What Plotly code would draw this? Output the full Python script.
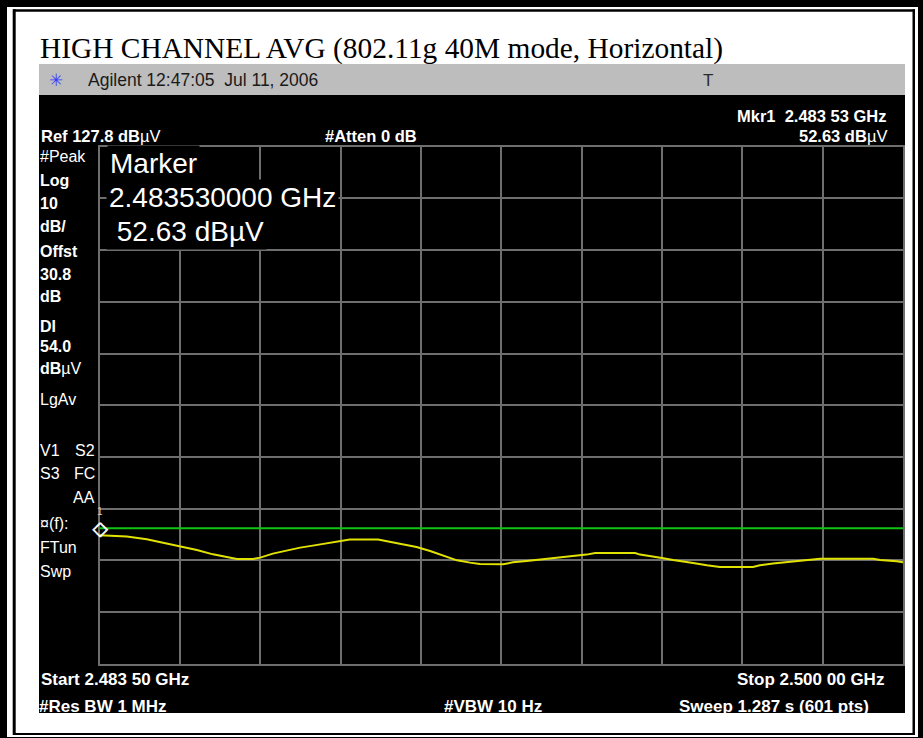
import plotly.graph_objects as go

# Spectrum analyser sweep: high channel, average detector
freq_ghz = [2.48350, 2.48406, 2.48447, 2.48480, 2.48515, 2.48550, 2.48583, 2.48611,
            2.48632, 2.48665, 2.48680, 2.48706, 2.48734, 2.48762, 2.48788, 2.48817,
            2.48844, 2.48864, 2.48922, 2.48947, 2.48973, 2.49001, 2.49029, 2.49055,
            2.49084, 2.49111, 2.49131, 2.49179, 2.49199, 2.49227, 2.49248, 2.49275,
            2.49302, 2.49326, 2.49350, 2.49368, 2.49450, 2.49460, 2.49481, 2.49505,
            2.49528, 2.49548, 2.49569, 2.49597, 2.49624, 2.49692, 2.49706, 2.49733,
            2.49757, 2.49782, 2.49809, 2.49830, 2.49939, 2.49953, 2.49987, 2.50000]
level_dbuv = [52.63, 52.38, 51.86, 51.22, 50.56, 49.78, 48.95, 48.37,
              48.05, 48.05, 48.32, 49.09, 49.73, 50.25, 50.64, 51.08,
              51.47, 51.80, 51.80, 51.33, 50.94, 50.37, 49.59, 48.76,
              47.79, 47.35, 47.08, 47.02, 47.41, 47.66, 47.85, 48.12,
              48.37, 48.63, 48.90, 49.21, 49.21, 48.90, 48.63, 48.24,
              47.85, 47.60, 47.27, 46.83, 46.50, 46.50, 46.83, 47.16,
              47.41, 47.66, 47.85, 48.12, 48.12, 47.85, 47.60, 47.41]

start_ghz, stop_ghz = 2.4835, 2.5000
ref_level = 127.8
db_per_div = 10
display_line = 54.0
marker_freq = 2.48353
marker_level = 52.63

W, H = 923, 738


def px(x):
    return x / W


def py(y):
    return 1 - y / H


SANS = "Liberation Sans, Arial, sans-serif"
SERIF = "Liberation Serif, Times New Roman, serif"

fig = go.Figure()

# display line
fig.add_trace(go.Scatter(x=[start_ghz, stop_ghz], y=[display_line, display_line],
                         mode="lines", line=dict(color="#12c412", width=2),
                         hoverinfo="skip", showlegend=False))
# measured trace
fig.add_trace(go.Scatter(x=freq_ghz, y=level_dbuv, mode="lines",
                         line=dict(color="#e2e200", width=2),
                         showlegend=False))

shapes = []


def rect(x0, y0, x1, y1, color, layer="below"):
    shapes.append(dict(type="rect", xref="paper", yref="paper",
                       x0=px(x0), x1=px(x1), y0=py(y1), y1=py(y0),
                       fillcolor=color, line=dict(width=0), layer=layer))


# instrument screen and title bar
rect(39, 95, 905, 713, "#000000")
rect(39, 64, 905, 95, "#bdbdbd")

# page border (thick outer, thin inner)
rect(0, 0, W, 7, "#000000", "above")
rect(0, 0, 7, H, "#000000", "above")
rect(918, 0, W, H, "#000000", "above")
rect(0, 737, W, H, "#000000", "above")
rect(13, 9.3, 915, 11.7, "#000000", "above")
rect(12.7, 9.3, 15.7, 735, "#000000", "above")
rect(13, 733, 915, 735, "#000000", "above")
rect(912.5, 9.3, 915, 735, "#000000", "above")

annotations = []


def label(text, x, y, size=17, color="#ffffff", anchor="left", family=SANS, bg=None):
    a = dict(text=text, x=px(x), y=py(y), xref="paper", yref="paper",
             xanchor=anchor, yanchor="middle", showarrow=False,
             font=dict(family=family, size=size, color=color))
    if bg:
        a.update(bgcolor=bg, borderpad=2)
    annotations.append(a)


label("HIGH CHANNEL AVG (802.11g 40M mode, Horizontal)", 38, 49, size=29.4,
      color="#000000", family=SERIF)

# title bar of the analyser
label("✳", 56, 80, size=17, color="#3a3aff", anchor="center", family="DejaVu Sans")
label("Agilent 12:47:05  Jul 11, 2006", 86, 80, size=17.5, color="#1a1a1a")
label("T", 708, 80, size=17, color="#2a2a2a", anchor="center")

# header readouts
label("<b>Mkr1  2.483 53 GHz</b>", 889, 116, size=16.5, anchor="right")
label("<b>Ref 127.8 dB</b>µV", 39, 136.5, size=16.5)
label("<b>#Atten 0 dB</b>", 323, 136.5, size=16.5)
label("<b>52.63 dB</b>µV", 889, 136.5, size=16.5, anchor="right")

# left-hand annotation panel
panel = [("#Peak", 156, False), ("Log", 180, True), ("10", 203, True),
         ("dB/", 227, True), ("Offst", 251, True), ("30.8", 274, True),
         ("dB", 296, True), ("DI", 326, True), ("54.0", 347, True),
         ("dB</b>µV<b>", 368, True), ("LgAv", 400, False),
         ("V1", 450, False), ("S3", 473, False), ("¤(f):", 523, False),
         ("FTun", 547, False), ("Swp", 571, False)]
for txt, yy, bold in panel:
    label(f"<b>{txt}</b>" if bold else txt, 38, yy, size=16)
for txt, yy in [("S2", 450), ("FC", 473), ("AA", 497)]:
    label(txt, 97, yy, size=16, anchor="right")

# footer readouts
label("<b>Start 2.483 50 GHz</b>", 39, 679)
label("<b>#Res BW 1 MHz</b>", 37, 706)
label("<b>#VBW 10 Hz</b>", 442, 706)
label("<b>Stop 2.500 00 GHz</b>", 886, 679, anchor="right")
label("<b>Sweep 1.287 s (601 pts)</b>", 871, 706, anchor="right")

# marker readout block
label("Marker", 107, 163, size=28, bg="#000000")
label("2.483530000 GHz", 106, 197, size=28, bg="#000000")
label(" 52.63 dBµV", 106, 231, size=28, bg="#000000")

# marker symbol (drawn twice for a heavier outline) and its number
for dx in (0, 1):
    annotations.append(dict(x=marker_freq - 0.00003, y=marker_level, xref="x", yref="y",
                            text="◇", showarrow=False, yshift=7, xshift=dx,
                            font=dict(family="DejaVu Sans", size=20, color="#ffffff")))
annotations.append(dict(x=marker_freq - 0.00003, y=marker_level, xref="x", yref="y",
                        text="1", showarrow=False, yshift=24,
                        font=dict(family=SANS, size=10, color="#cfcfcf")))

axis_style = dict(showgrid=True, gridcolor="#6e6e6e", gridwidth=2,
                  showline=True, mirror=True, linecolor="#6e6e6e", linewidth=2,
                  zeroline=False, showticklabels=False, ticks="", fixedrange=True)

fig.update_layout(
    width=W, height=H,
    margin=dict(l=0, r=0, t=0, b=0),
    paper_bgcolor="#ffffff",
    plot_bgcolor="#000000",
    xaxis=dict(range=[start_ghz, stop_ghz], tick0=start_ghz,
               dtick=(stop_ghz - start_ghz) / 10,
               domain=[px(99.5), px(903)], **axis_style),
    yaxis=dict(range=[ref_level - 10 * db_per_div, ref_level], tick0=ref_level,
               dtick=db_per_div, domain=[py(663.7), py(146.7)], **axis_style),
    shapes=shapes,
    annotations=annotations,
    showlegend=False,
)

fig.write_html("out.html")
